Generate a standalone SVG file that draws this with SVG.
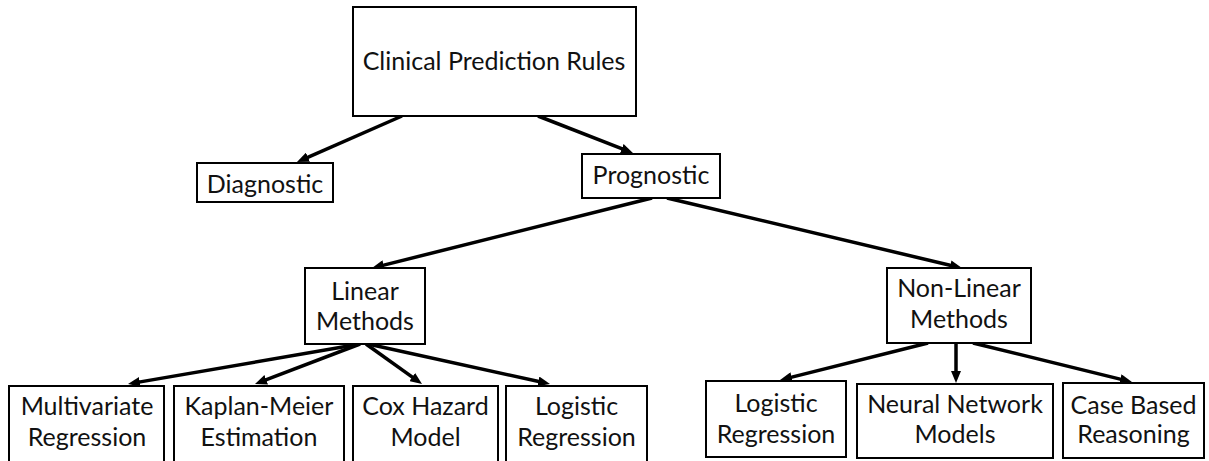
<svg xmlns="http://www.w3.org/2000/svg" width="1209" height="461" viewBox="0 0 1209 461">
  <style>
    .box { fill: #ffffff; stroke: #000000; stroke-width: 2; }
    .lbl { font-family: "Lato", "Open Sans", sans-serif; font-size: 25px; fill: #111111; text-anchor: middle; }
    .edge { stroke: #000000; stroke-width: 3.5; fill: none; marker-end: url(#head); }
  </style>
  <defs>
    <marker id="head" viewBox="0 0 12 10" refX="4" refY="5" markerWidth="12" markerHeight="10" markerUnits="userSpaceOnUse" orient="auto">
      <path d="M0,0 L12,5 L0,10 Z" fill="#000000"/>
    </marker>
  </defs>
  <rect width="1209" height="461" fill="#ffffff"/>

  <!-- connectors -->
  <g id="connectors">
    <line class="edge" x1="402" y1="116" x2="304.3" y2="158.8"/>
    <line class="edge" x1="538" y1="116" x2="625.5" y2="150.1"/>
    <line class="edge" x1="652" y1="198" x2="379.8" y2="266.1"/>
    <line class="edge" x1="667" y1="198" x2="954.2" y2="266.2"/>
    <line class="edge" x1="360" y1="344" x2="135.9" y2="382.6"/>
    <line class="edge" x1="360" y1="344" x2="262.5" y2="381.2"/>
    <line class="edge" x1="366" y1="344" x2="415.5" y2="379.4"/>
    <line class="edge" x1="368" y1="344" x2="542.2" y2="382.3"/>
    <line class="edge" x1="928" y1="343" x2="787.8" y2="378.1"/>
    <line class="edge" x1="956" y1="343" x2="956" y2="375"/>
    <line class="edge" x1="973" y1="343" x2="1124.2" y2="380.1"/>
  </g>

  <g id="clinical-prediction-rules">
    <rect class="box" x="353" y="7" width="283" height="109"/>
    <text class="lbl" x="494" y="70">Clinical Prediction Rules</text>
  </g>
  <g id="diagnostic">
    <rect class="box" x="197" y="163" width="136" height="39"/>
    <text class="lbl" x="265" y="193">Diagnostic</text>
  </g>
  <g id="prognostic">
    <rect class="box" x="582" y="154" width="138" height="44"/>
    <text class="lbl" x="651" y="184">Prognostic</text>
  </g>
  <g id="linear-methods">
    <rect class="box" x="305" y="268" width="120" height="76"/>
    <text class="lbl" x="365" y="300">Linear</text>
    <text class="lbl" x="365" y="330">Methods</text>
  </g>
  <g id="non-linear-methods">
    <rect class="box" x="887" y="268" width="144" height="75"/>
    <text class="lbl" x="959" y="297">Non-Linear</text>
    <text class="lbl" x="959" y="328">Methods</text>
  </g>
  <g id="multivariate-regression">
    <rect class="box" x="9" y="386" width="155" height="84"/>
    <text class="lbl" x="87" y="415">Multivariate</text>
    <text class="lbl" x="87" y="446">Regression</text>
  </g>
  <g id="kaplan-meier">
    <rect class="box" x="174" y="386" width="170" height="84"/>
    <text class="lbl" x="259" y="415">Kaplan-Meier</text>
    <text class="lbl" x="259" y="446">Estimation</text>
  </g>
  <g id="cox-hazard">
    <rect class="box" x="353" y="386" width="145" height="84"/>
    <text class="lbl" x="425.5" y="415">Cox Hazard</text>
    <text class="lbl" x="425.5" y="446">Model</text>
  </g>
  <g id="logistic-linear">
    <rect class="box" x="506" y="386" width="141" height="84"/>
    <text class="lbl" x="576.5" y="415">Logistic</text>
    <text class="lbl" x="576.5" y="446">Regression</text>
  </g>
  <g id="logistic-nonlinear">
    <rect class="box" x="706" y="381" width="140" height="76"/>
    <text class="lbl" x="776" y="412">Logistic</text>
    <text class="lbl" x="776" y="443">Regression</text>
  </g>
  <g id="neural-network">
    <rect class="box" x="857" y="384" width="196" height="74"/>
    <text class="lbl" x="955" y="413">Neural Network</text>
    <text class="lbl" x="955" y="443">Models</text>
  </g>
  <g id="case-based">
    <rect class="box" x="1063" y="383" width="141" height="75"/>
    <text class="lbl" x="1133.5" y="414">Case Based</text>
    <text class="lbl" x="1133.5" y="443">Reasoning</text>
  </g>
</svg>
